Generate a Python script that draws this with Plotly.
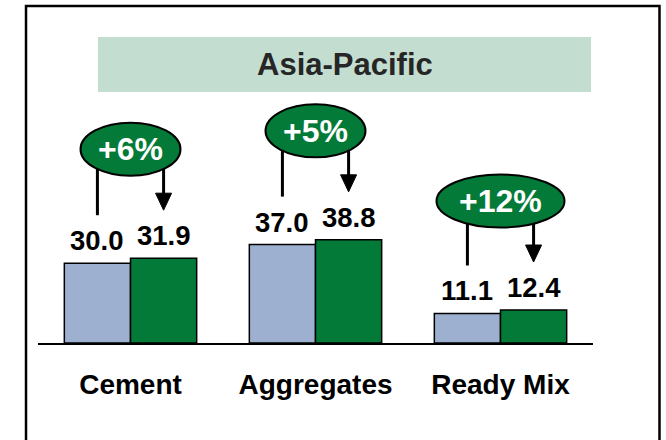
import plotly.graph_objects as go

categories = ["Cement", "Aggregates", "Ready Mix"]
prior = [30.0, 37.0, 11.1]
current = [31.9, 38.8, 12.4]
growth = ["+6%", "+5%", "+12%"]
title_text = "Asia-Pacific"

BLUE = "#9db0cf"
GREEN = "#037a38"
FONT = "Liberation Sans, Arial, sans-serif"
W = 0.3577

xs = list(range(len(categories)))

fig = go.Figure()
fig.add_trace(go.Bar(x=xs, y=prior, width=W, offset=-W,
                     marker=dict(color=BLUE, line=dict(color="black", width=1.5)),
                     hoverinfo="skip"))
fig.add_trace(go.Bar(x=xs, y=current, width=W, offset=0,
                     marker=dict(color=GREEN, line=dict(color="black", width=1.5)),
                     hoverinfo="skip"))

shapes = []
annotations = []

# frame and title box
shapes.append(dict(type="rect", xref="paper", yref="paper",
                   x0=-0.0216, x1=1.1198, y0=-0.4, y1=0.9825,
                   line=dict(color="black", width=2.5), fillcolor="rgba(0,0,0,0)", layer="above"))
shapes.append(dict(type="rect", xref="paper", yref="paper",
                   x0=0.1081, x1=0.9964, y0=0.7318, y1=0.8921,
                   line=dict(width=0), fillcolor="#c3ddd0", layer="below"))
annotations.append(dict(text=title_text, xref="paper", yref="paper", x=0.553, y=0.8105,
                        xanchor="center", yanchor="middle", showarrow=False,
                        font=dict(family=FONT, size=31, color="#262626", weight="bold")))

for i, (p, c, g) in enumerate(zip(prior, current, growth)):
    xl = i - W / 2
    xr = i + W / 2
    # value labels
    annotations.append(dict(text=f"{p:.1f}", x=xl, y=p, xref="x", yref="y",
                            xanchor="center", yanchor="bottom", yshift=5, showarrow=False,
                            font=dict(family=FONT, size=27.5, color="black", weight="bold")))
    annotations.append(dict(text=f"{c:.1f}", x=xr, y=c, xref="x", yref="y",
                            xanchor="center", yanchor="bottom", yshift=5, showarrow=False,
                            font=dict(family=FONT, size=27.5, color="black", weight="bold")))
    # left connector line
    shapes.append(dict(type="line", xref="x", yref="y", ysizemode="pixel", yanchor=p,
                       x0=xl, x1=xl, y0=48, y1=100,
                       line=dict(color="black", width=3), layer="above"))
    # right arrow line
    shapes.append(dict(type="line", xref="x", yref="y", ysizemode="pixel", yanchor=c,
                       x0=xr, x1=xr, y0=60, y1=100,
                       line=dict(color="black", width=3), layer="above"))
    # arrow head
    shapes.append(dict(type="path", xref="x", yref="y", xsizemode="pixel", ysizemode="pixel",
                       xanchor=xr, yanchor=c,
                       path="M -8,65 L 8,65 L 0,48 Z",
                       fillcolor="black", line=dict(color="black", width=1), layer="above"))
    # ellipse
    half_w = 50 if len(g) <= 3 else 64
    shapes.append(dict(type="circle", xref="x", yref="y", xsizemode="pixel", ysizemode="pixel",
                       xanchor=i, yanchor=c,
                       x0=-half_w, x1=half_w, y0=82.5, y1=135.5,
                       fillcolor=GREEN, line=dict(color="black", width=2), layer="above"))
    annotations.append(dict(text=g, x=i, y=c, xref="x", yref="y",
                            xanchor="center", yanchor="middle", yshift=109, showarrow=False,
                            font=dict(family=FONT, size=32, color="white", weight="bold")))

fig.update_layout(
    width=666, height=440,
    margin=dict(l=38, r=73, t=0, b=97, pad=0),
    paper_bgcolor="white", plot_bgcolor="white",
    showlegend=False, barmode="overlay",
    shapes=shapes, annotations=annotations,
    xaxis=dict(range=[-0.5, 2.5], tickvals=xs, ticktext=categories,
               showline=True, linecolor="black", linewidth=1.5,
               showgrid=False, zeroline=False, ticks="", ticklabelstandoff=16,
               tickfont=dict(family=FONT, size=28, color="black", weight="bold"),
               fixedrange=True),
    yaxis=dict(range=[0, 129], visible=False, fixedrange=True),
)

fig.write_html("out.html", config={"displayModeBar": False},
               post_script="document.body.style.margin='0';document.body.style.overflow='hidden';")
